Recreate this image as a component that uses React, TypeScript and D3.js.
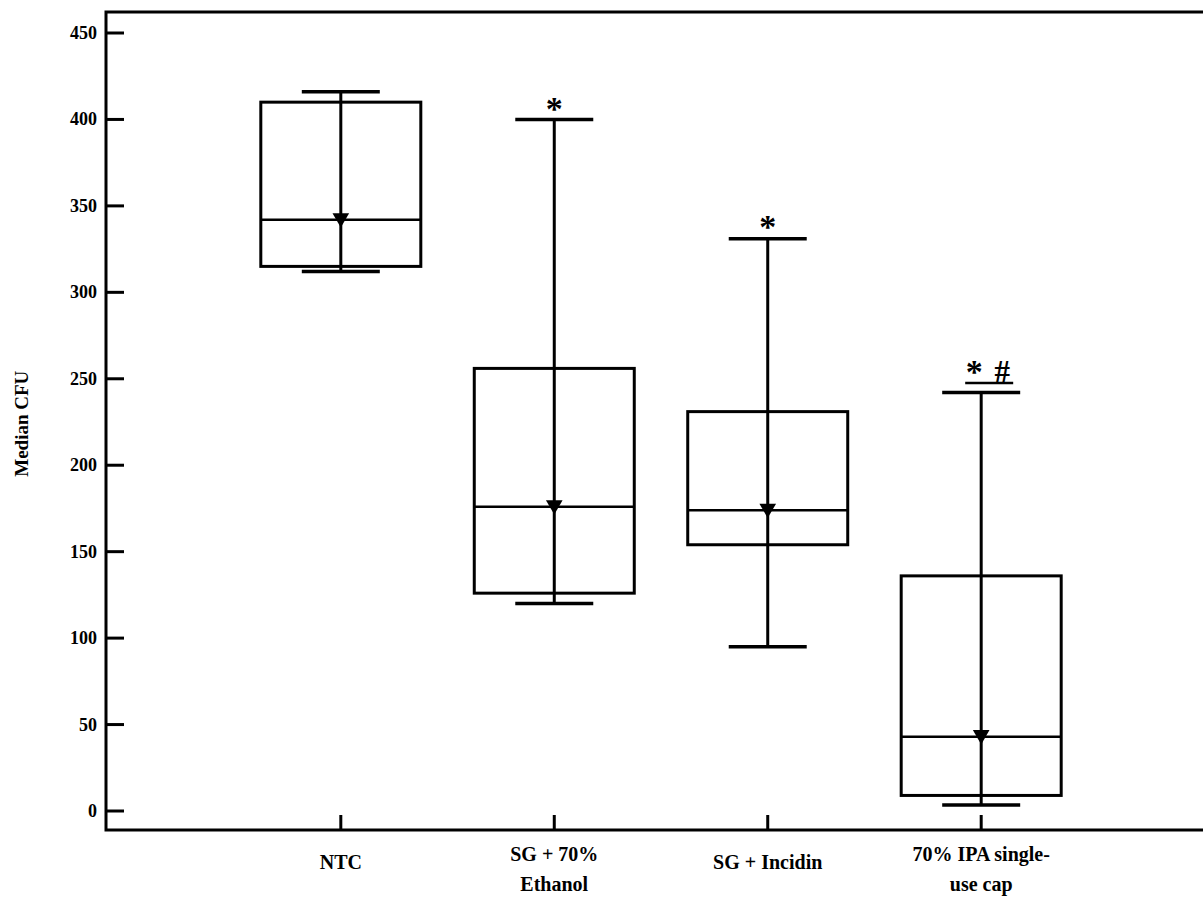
import React from "react";
import * as d3 from "d3";

const width = 1203;
const height = 898;
const frame = { left: 106, top: 12, right: 1216, bottom: 830 };

const categories = ["NTC", "SG + 70% Ethanol", "SG + Incidin", "70% IPA single-use cap"];
const labelLines = [["NTC"], ["SG + 70%", "Ethanol"], ["SG + Incidin"], ["70% IPA single-", "use cap"]];
const whiskerLow = [312, 120, 95, 3.5];
const q1 = [315, 126, 154, 9];
const medians = [342, 176, 174, 43];
const q3 = [410, 256, 231, 136];
const whiskerHigh = [416, 400, 331, 242];
const means = [343, 177, 175, 44];
const yTicks = [0, 50, 100, 150, 200, 250, 300, 350, 400, 450];

const font = "'Liberation Serif', 'Times New Roman', serif";

export default function App() {
  const x = d3
    .scalePoint<string>()
    .domain(categories)
    .range([frame.left, frame.right])
    .padding(1.1);
  const y = d3.scaleLinear().domain([0, 450]).range([811, 33]);

  const boxW = 160;
  const capW = 78;
  const tri = d3.symbol().type(d3.symbolTriangle).size(120)();
  const ipa = x(categories[3])!;

  return (
    <svg width={width} height={height} style={{ position: "absolute", left: 0, top: 0 }}>
      <rect width={width} height={height} fill="#fff" />
      {/* frame: left, top, bottom */}
      <path
        d={`M${frame.right},${frame.top}H${frame.left}V${frame.bottom}H${frame.right}`}
        fill="none"
        stroke="#000"
        strokeWidth={3}
      />
      {yTicks.map((t) => (
        <g key={t}>
          <line x1={frame.left} x2={frame.left + 18} y1={y(t)} y2={y(t)} stroke="#000" strokeWidth={3} />
          <text
            x={frame.left - 9}
            y={y(t)}
            textAnchor="end"
            dominantBaseline="central"
            fontFamily={font}
            fontWeight="bold"
            fontSize={18}
          >
            {t}
          </text>
        </g>
      ))}
      <text
        transform={`translate(21, ${y(224)}) rotate(-90)`}
        textAnchor="middle"
        dominantBaseline="central"
        fontFamily={font}
        fontWeight="bold"
        fontSize={19}
      >
        Median CFU
      </text>
      {categories.map((c, i) => {
        const cx = x(c)!;
        const lines = labelLines[i];
        return (
          <g key={c}>
            <line x1={cx} x2={cx} y1={frame.bottom} y2={frame.bottom - 15} stroke="#000" strokeWidth={3} />
            {lines.map((l, j) => (
              <text
                key={j}
                x={cx}
                y={lines.length === 1 ? 869 : 861 + j * 30}
                textAnchor="middle"
                fontFamily={font}
                fontWeight="bold"
                fontSize={20}
              >
                {l}
              </text>
            ))}
            <line x1={cx} x2={cx} y1={y(whiskerLow[i])} y2={y(whiskerHigh[i])} stroke="#000" strokeWidth={3} />
            <rect
              x={cx - boxW / 2}
              y={y(q3[i])}
              width={boxW}
              height={y(q1[i]) - y(q3[i])}
              fill="none"
              stroke="#000"
              strokeWidth={3}
            />
            <line x1={cx - boxW / 2} x2={cx + boxW / 2} y1={y(medians[i])} y2={y(medians[i])} stroke="#000" strokeWidth={2.5} />
            <line x1={cx - capW / 2} x2={cx + capW / 2} y1={y(whiskerHigh[i])} y2={y(whiskerHigh[i])} stroke="#000" strokeWidth={3.5} />
            <line x1={cx - capW / 2} x2={cx + capW / 2} y1={y(whiskerLow[i])} y2={y(whiskerLow[i])} stroke="#000" strokeWidth={3.5} />
            <path d={tri!} transform={`translate(${cx}, ${y(means[i])}) rotate(180)`} fill="#000" />
          </g>
        );
      })}
      {/* significance marks */}
      <text x={x(categories[1])!} y={y(402) + 4} textAnchor="middle" fontFamily={font} fontWeight="bold" fontSize={34}>
        *
      </text>
      <text x={x(categories[2])!} y={y(334) + 4} textAnchor="middle" fontFamily={font} fontWeight="bold" fontSize={34}>
        *
      </text>
      <text x={ipa - 7} y={y(250) + 4} textAnchor="middle" fontFamily={font} fontWeight="bold" fontSize={34}>
        *
      </text>
      <text x={ipa + 21} y={y(254)} textAnchor="middle" dominantBaseline="central" fontFamily={font} fontWeight="bold" fontSize={31}>
        #
      </text>
      <line x1={ipa - 16} x2={ipa + 32} y1={y(247.5)} y2={y(247.5)} stroke="#000" strokeWidth={2.5} />
    </svg>
  );
}
